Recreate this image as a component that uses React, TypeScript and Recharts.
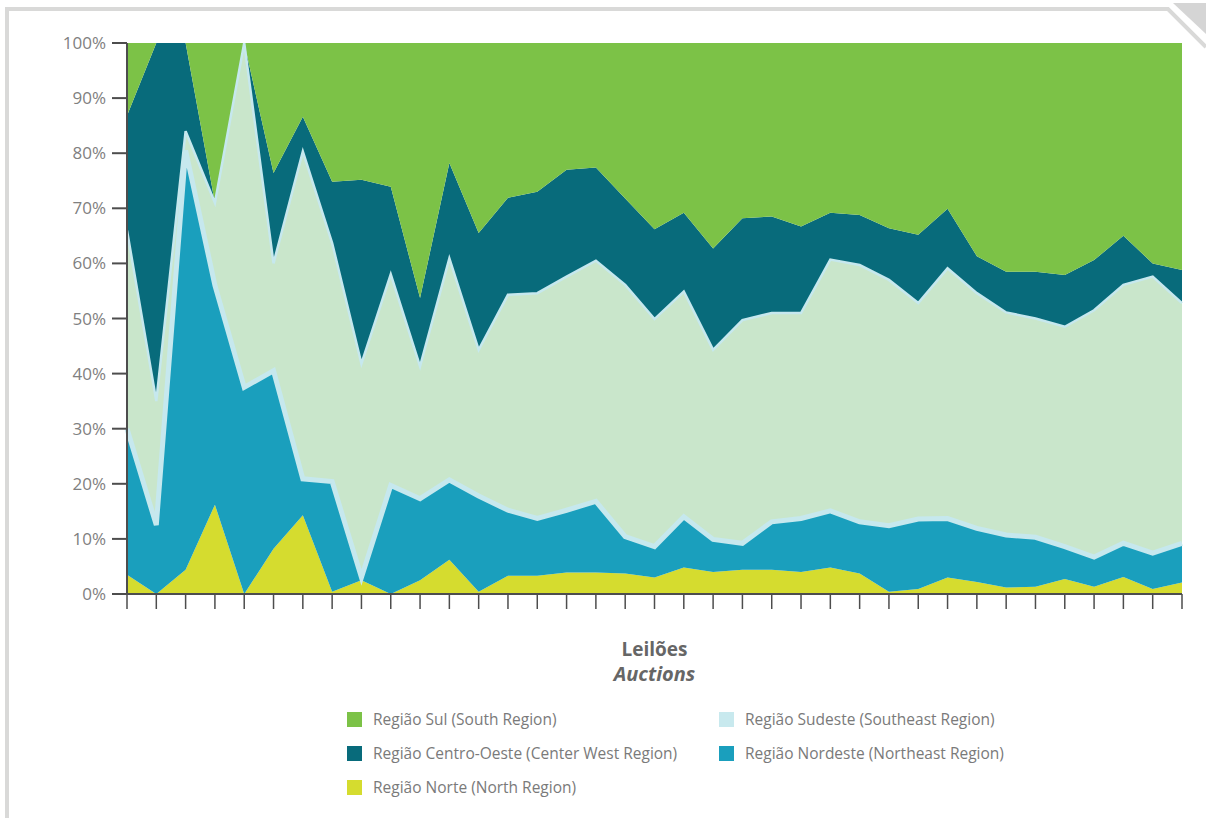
import React from "react";
import { ComposedChart, Area, Line, XAxis, YAxis } from "recharts";

// Share of contracted energy by region, per auction (%)
const LEILOES = [
  "1", "2", "3", "4", "5", "6", "7", "8", "9", "10", "11", "12", "13",
  "14", "15", "16", "17", "18", "19", "20", "21", "22", "23", "24", "25",
  "26", "27", "28", "29", "30", "31", "32", "33", "34", "35", "36", "37",
];

const NORTE = [
  3.5, 0, 4.4, 16.2, 0, 8.2, 14.3, 0.4, 2.5, 0, 2.5, 6.2, 0.4,
  3.3, 3.3, 3.9, 3.9, 3.7, 3, 4.8, 4, 4.4, 4.4, 4, 4.8,
  3.7, 0.4, 0.9, 3, 2.2, 1.2, 1.3, 2.7, 1.3, 3.1, 0.9, 2.1,
];
const NORDESTE = [
  26.5, 12.5, 76.1, 39.8, 37.5, 32.3, 6.6, 20, 0.5, 19.7, 14.8, 14.5, 17.4,
  11.9, 10.4, 11.3, 12.9, 6.7, 5.6, 9.2, 5.9, 4.8, 8.7, 9.7, 10.3,
  9.4, 12, 12.7, 10.7, 9.7, 9.5, 9, 5.9, 5.4, 6.1, 6.5, 7.1,
];
const SUDESTE = [
  36, 22.5, 3.5, 15, 62.5, 19.5, 59.4, 43.3, 38.8, 38.3, 24, 40.2, 26.5,
  39.1, 40.9, 42.4, 43.7, 45.7, 41.3, 40.9, 34.4, 40.5, 37.9, 37.3, 45.6,
  46.6, 44.6, 39.2, 45.4, 42.7, 40.4, 39.7, 39.9, 44.8, 46.9, 50.2, 43.6,
];
const CENTRO_OESTE = [
  20.8, 65, 16, 0, 0, 16.4, 6.3, 11.1, 33.4, 15.9, 12.4, 17.3, 21.2,
  17.6, 18.4, 19.4, 16.9, 15.7, 16.3, 14.3, 18.4, 18.5, 17.5, 15.7, 8.5,
  9.1, 9.4, 12.4, 10.8, 6.7, 7.4, 8.5, 9.4, 9.1, 8.9, 2.4, 6,
];
const SUL = [
  13.2, 0, 0, 29, 0, 23.6, 13.4, 25.2, 24.8, 26.1, 46.3, 21.8, 34.5,
  28.1, 27, 23, 22.6, 28.2, 33.8, 30.8, 37.3, 31.8, 31.5, 33.3, 30.8,
  31.2, 33.6, 34.8, 30.1, 38.7, 41.5, 41.5, 42.1, 39.4, 35, 40, 41.2,
];

const Y_TICKS = [0, 10, 20, 30, 40, 50, 60, 70, 80, 90, 100];

const COLORS = {
  sul: "#7cc247",
  centroOeste: "#086b7b",
  sudeste: "#c9e6cb",
  sudesteLegend: "#c8e9ee",
  outline: "#c6e8ee",
  nordeste: "#1a9fbd",
  norte: "#d5dc2f",
};

const data = LEILOES.map((l, i) => ({
  leilao: l,
  norte: NORTE[i],
  nordeste: NORDESTE[i],
  sudeste: SUDESTE[i],
  centroOeste: CENTRO_OESTE[i],
  sul: SUL[i],
  // cumulative tops, used only for the light outline of the Sudeste band
  topNordeste: NORTE[i] + NORDESTE[i],
  topSudeste: NORTE[i] + NORDESTE[i] + SUDESTE[i],
}));

const LEGEND = [
  { label: "Região Sul (South Region)", color: COLORS.sul },
  { label: "Região Sudeste (Southeast Region)", color: COLORS.sudesteLegend },
  { label: "Região Centro-Oeste (Center West Region)", color: COLORS.centroOeste },
  { label: "Região Nordeste (Northeast Region)", color: COLORS.nordeste },
  { label: "Região Norte (North Region)", color: COLORS.norte },
];

const FONT = "'Open Sans', 'Noto Sans', sans-serif";

function AxisTitle(props: any) {
  const vb = props.viewBox || {};
  const cx = vb.x + vb.width / 2;
  return (
    <g fontFamily={FONT} fontWeight="bold" fill="#666666">
      <text x={cx} y={vb.y + 62} textAnchor="middle" fontSize={19}>Leilões</text>
      <text x={cx} y={vb.y + 87} textAnchor="middle" fontSize={20} fontStyle="italic">Auctions</text>
    </g>
  );
}

export default function App() {
  return (
    <div style={{ position: "absolute", left: 0, top: 0, width: 1206, height: 818, background: "#fff" }}>
      {/* page frame with folded corner */}
      <svg width={1206} height={818} style={{ position: "absolute", left: 0, top: 0 }}>
        <rect x={5} y={7} width={4} height={811} fill="#d9d9d8" />
        <polyline points="5,9 1168,9 1206,47" fill="none" stroke="#d9d9d8" strokeWidth={4} />
        <polygon points="1173,3 1206,3 1206,34" fill="#d5d5d5" />
      </svg>

      <div style={{ position: "absolute", left: 0, top: 0 }}>
        <ComposedChart width={1206} height={700} data={data}
          margin={{ top: 43, right: 24, bottom: 0, left: 0 }}>
          <Area type="linear" dataKey="norte" stackId="1" stroke="none" fill={COLORS.norte} fillOpacity={1} isAnimationActive={false} />
          <Area type="linear" dataKey="nordeste" stackId="1" stroke="none" fill={COLORS.nordeste} fillOpacity={1} isAnimationActive={false} />
          <Area type="linear" dataKey="sudeste" stackId="1" stroke="none" fill={COLORS.sudeste} fillOpacity={1} isAnimationActive={false} />
          <Area type="linear" dataKey="centroOeste" stackId="1" stroke="none" fill={COLORS.centroOeste} fillOpacity={1} isAnimationActive={false} />
          <Area type="linear" dataKey="sul" stackId="1" stroke="none" fill={COLORS.sul} fillOpacity={1} isAnimationActive={false} />
          <Line type="linear" dataKey="topNordeste" stroke={COLORS.outline} strokeWidth={5} dot={false} activeDot={false} isAnimationActive={false} />
          <Line type="linear" dataKey="topSudeste" stroke={COLORS.outline} strokeWidth={2.5} dot={false} activeDot={false} isAnimationActive={false} />
          <XAxis dataKey="leilao" scale="point" padding={{ left: 0, right: 0 }} interval={0}
            height={106} tickSize={15} tickFormatter={() => ""}
            axisLine={{ stroke: "#4d4d4d", strokeWidth: 2 }}
            tickLine={{ stroke: "#4d4d4d", strokeWidth: 1.5 }}
            label={{ content: AxisTitle }} />
          <YAxis domain={[0, 100]} ticks={Y_TICKS} allowDataOverflow width={127}
            tickFormatter={(v) => `${v}%`} tickSize={15} tickMargin={6}
            tick={{ fill: "#808080", fontSize: 17, fontFamily: FONT }}
            axisLine={{ stroke: "#4d4d4d", strokeWidth: 2 }}
            tickLine={{ stroke: "#4d4d4d", strokeWidth: 2 }} />
        </ComposedChart>
      </div>

      {/* legend */}
      <div style={{
        position: "absolute", left: 347, top: 710, width: 700,
        display: "grid", gridTemplateColumns: "372px 320px", rowGap: 16,
        fontFamily: FONT, fontSize: 15.5, color: "#7a7a7a",
      }}>
        {LEGEND.map(s => (
          <div key={s.label} style={{ display: "flex", alignItems: "center", height: 18 }}>
            <span style={{ width: 15, height: 15, background: s.color, marginRight: 11, flexShrink: 0 }} />
            <span style={{ whiteSpace: "nowrap" }}>{s.label}</span>
          </div>
        ))}
      </div>
    </div>
  );
}
